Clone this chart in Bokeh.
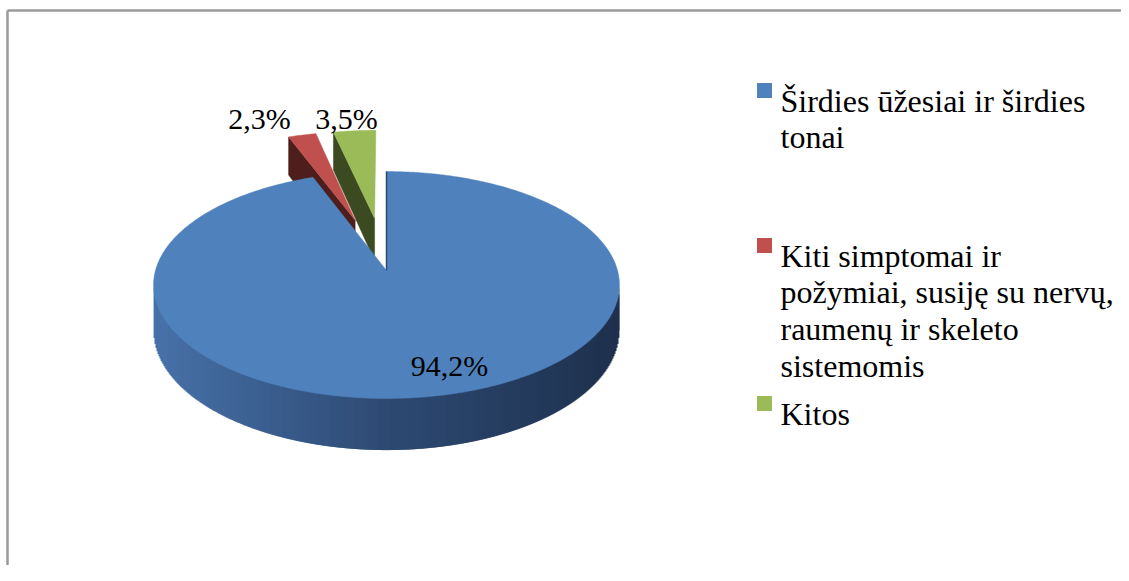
import numpy as np
from bokeh.plotting import figure
from bokeh.models import Range1d
from bokeh.core.properties import value
from bokeh.embed import file_html
from bokeh.resources import INLINE

# ---------------- data ----------------
categories = [
    "Širdies ūžesiai ir širdies\ntonai",
    "Kiti simptomai ir\npožymiai, susiję su nervų,\nraumenų ir skeleto\nsistemomis",
    "Kitos",
]
shares = [94.2, 2.3, 3.5]
share_labels = ["94,2%", "2,3%", "3,5%"]

# ---------------- style ----------------
top_colors = ["#4F81BD", "#C0504D", "#9BBB59"]
face_colors = ["#2E4A73", "#4E1E1D", "#3C4A22"]
explode = [0.0, 0.5, 0.5]
FONT = value("'Liberation Serif', 'Times New Roman', serif")

W, H = 1121, 565
X0, Y0 = 0, 0

# pie projection parameters (pixel space)
CX, CY = 386.0, 270.0
A, B, P, DEPTH = 231.0, 111.6, 0.128, 45.0


def proj(u, v, z):
    u = np.asarray(u, dtype=float)
    v = np.asarray(v, dtype=float)
    s = 1.0 / (1.0 + P * v)
    return CX + A * u * s, CY - B * v * s + DEPTH * z * s


p = figure(width=W, height=H,
           x_range=Range1d(X0, X0 + W), y_range=Range1d(Y0 + H, Y0),
           output_backend="svg", toolbar_location=None,
           x_axis_type=None, y_axis_type=None,
           min_border=0, outline_line_color=None)
p.background_fill_color = "white"
p.border_fill_color = "white"

# chart frame
p.line(x=[7, 7], y=[Y0 + H + 5, 10], line_color="#9a9a9a", line_width=2.5)
p.line(x=[7, X0 + W + 5], y=[10, 10], line_color="#9a9a9a", line_width=2.5)

vals = np.array(shares, dtype=float)
ang = np.concatenate([[0.0], np.cumsum(vals) / vals.sum() * 2 * np.pi])

# ---- exploded slices (drawn back to front: last first) ----
for i in [2, 1]:
    t0, t1 = ang[i], ang[i + 1]
    mid = 0.5 * (t0 + t1)
    ou, ov = explode[i] * np.sin(mid), explode[i] * np.cos(mid)
    ru, rv = ou + np.sin(t0), ov + np.cos(t0)
    fx, fy = [], []
    for (uu, vv, zz) in [(ou, ov, 0), (ru, rv, 0), (ru, rv, 1), (ou, ov, 1)]:
        a, b = proj(uu, vv, zz)
        fx.append(float(a)); fy.append(float(b))
    p.patch(x=fx, y=fy, fill_color=face_colors[i], line_color=face_colors[i], line_width=0.5)
    th = np.linspace(t0, t1, 30)
    tx, ty = proj(ou + np.sin(th), ov + np.cos(th), 0)
    ax_, ay_ = proj(ou, ov, 0)
    p.patch(x=[float(ax_)] + list(tx), y=[float(ay_)] + list(ty),
            fill_color=top_colors[i], line_color=top_colors[i], line_width=0.5)

# ---- main slice: outer side, shaded column by column ----
t0, t1 = ang[0], ang[1]
c_ext = np.arccos(-P)
th = np.linspace(c_ext, 2 * np.pi - c_ext, 3000)
rx, ry_top = proj(np.sin(th), np.cos(th), 0)
_, ry_bot = proj(np.sin(th), np.cos(th), 1)
order = np.argsort(rx)
rx, ry_top, ry_bot = rx[order], ry_top[order], ry_bot[order]
cols_x = np.arange(np.floor(rx.min()), np.ceil(rx.max()))
left = np.maximum(cols_x, rx.min())
right = np.minimum(cols_x + 2, rx.max())
xc = np.clip(cols_x + 0.5, rx.min(), rx.max())
yt = np.interp(xc, rx, ry_top) - 3
yb = np.minimum(np.interp(xc, rx, ry_bot), np.interp(np.clip(xc + 1, rx.min(), rx.max()), rx, ry_bot))
sx = [150, 270, 390, 620]
sr = [72, 59, 46, 30]
sg = [115, 94, 74, 49]
sb = [170, 142, 115, 78]
cols = ["#%02x%02x%02x" % (int(np.interp(x, sx, sr)), int(np.interp(x, sx, sg)),
                           int(np.interp(x, sx, sb))) for x in xc]
p.quad(left=list(left), right=list(right), top=list(yt), bottom=list(yb),
       fill_color=cols, fill_alpha=1.0, line_color=None)

# top face of main slice
th = np.linspace(t0, t1, 400)
tx, ty = proj(np.sin(th), np.cos(th), 0)
p.patch(x=[CX] + list(tx) + [CX], y=[CY] + list(ty) + [CY],
        fill_color=top_colors[0], line_color=top_colors[0], line_width=0.5)
ex, ey = proj([0.0, 0.0], [0.0, 1.0], 0)
p.line(x=list(ex), y=list(ey), line_color="#2E4A73", line_width=1.5)

# ---- data labels ----
label_x = [449, 259, 346]
label_y = [365, 118, 118]
p.text(x=label_x, y=label_y, text=share_labels, text_font=FONT,
       text_font_size="30px", text_align="center", text_baseline="alphabetic",
       text_color="black")

# ---- legend ----
leg_base = [100, 255, 413]
LINE = 36.7
sq_x, txt_x = 764, 780
lx, ly, lt = [], [], []
for i, cat in enumerate(categories):
    for j, line in enumerate(cat.split("\n")):
        lx.append(txt_x); ly.append(leg_base[i] + j * LINE); lt.append(line)
p.rect(x=[sq_x] * 3, y=[b - 10 for b in leg_base], width=15, height=15,
       fill_color=top_colors, line_color=None)
p.text(x=lx, y=ly, text=lt, text_font=FONT, text_font_size="32px",
       text_align="left", text_baseline="alphabetic", text_color="black")

open("out.html", "w").write(file_html(p, INLINE))
